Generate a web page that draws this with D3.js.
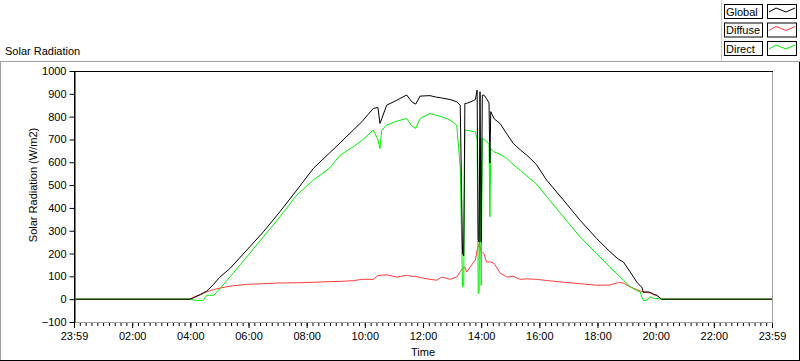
<!DOCTYPE html>
<html>
<head>
<meta charset="utf-8">
<script src="https://cdn.jsdelivr.net/npm/d3@7"></script>
<style>
  html, body { margin: 0; padding: 0; background: #fff; }
  svg { display: block; font-family: "Liberation Sans", Arial, sans-serif; font-size: 11px; }
</style>
</head>
<body>
<svg id="chart" width="800" height="361"></svg>
<script>
// time of day in hours, shared by all three series
var hours = [0, 3.99, 4.15, 4.3, 4.45, 4.56, 4.8, 5.0, 5.36, 5.94, 6.51, 7.08, 7.66, 8.23, 8.78,
  9.15, 9.6, 9.9, 10.29, 10.45, 10.52, 10.58, 10.75, 11.1, 11.44, 11.61, 11.75, 11.9, 12.24,
  12.47, 12.64, 12.93, 13.16, 13.28, 13.36, 13.4, 13.44, 13.5, 13.73, 13.8, 13.86, 13.9, 13.93,
  13.96, 14.0, 14.04, 14.1, 14.18, 14.27, 14.3, 14.33, 14.45, 14.65, 14.88, 15.1, 15.34, 15.57,
  15.9, 16.25, 16.83, 17.4, 17.97, 18.43, 18.72, 18.89, 19.12, 19.24, 19.35, 19.47, 19.52,
  19.58, 19.7, 19.81, 19.95, 20.04, 20.2, 24]

var globalRad = [0, 0, 8, 18, 28, 35, 65, 95, 134, 215, 295, 383, 478, 573, 640,
  685, 741, 778, 836, 840, 770, 790, 850, 872, 895, 865, 855, 890, 892,
  885, 882, 875, 865, 850, 200, 190, 858, 858, 870, 875, 916, 260, 250,
  909, 250, 894, 894, 880, 860, 597, 822, 790, 770, 725, 683, 655, 631,
  590, 522, 434, 346, 266, 208, 175, 163, 120, 97, 75, 58, 54,
  30, 32, 30, 20, 17, 0, 0]

var diffuseRad = [0, 0, 12, 17, 25, 32, 42, 48, 57, 65, 68, 71, 72, 74, 77,
  78, 81, 87, 87, 103, 104, 105, 107, 97, 105, 100, 100, 95, 87,
  83, 97, 87, 97, 120, 134, 141, 141, 119, 160, 171, 215, 229, 244,
  230, 207, 205, 200, 163, 163, 163, 163, 156, 115, 97, 100, 87, 89,
  87, 82, 74, 68, 61, 62, 73, 71, 54, 48, 42, 36, 34,
  32, 30, 27, 20, 17, 0, 0]

var directRad = [0, 0, -5, -5, -5, 17, 17, 44, 97, 185, 273, 361, 456, 522, 573,
  631, 668, 695, 741, 700, 660, 740, 763, 780, 792, 760, 748, 792, 814,
  805, 800, 785, 763, 580, 54, 60, 741, 741, 734, 734, 700, 24, 30,
  705, 60, 705, 700, 690, 680, 361, 660, 645, 635, 617, 590, 566, 540,
  505, 450, 361, 273, 200, 140, 105, 83, 55, 46, 38, 32, 10,
  -5, -5, 10, 3, 3, 0, 0]

var yTicks = [-100, 0, 100, 200, 300, 400, 500, 600, 700, 800, 900, 1000]
var xTicks = [0, 2, 4, 6, 8, 10, 12, 14, 16, 18, 20, 22, 24]
var xTickLabels = ['23:59', '02:00', '04:00', '06:00', '08:00', '10:00', '12:00',
  '14:00', '16:00', '18:00', '20:00', '22:00', '23:59']

var seriesNames = ['Global', 'Diffuse', 'Direct']
var seriesColors = ['#000000', '#ff3c3c', '#00f000']

var svg = d3.select('#chart')
var plotLeft = 74, plotRight = 772, plotTop = 71, plotBottom = 322
var font = 'Liberation Sans, Arial, sans-serif'

var x = d3.scaleLinear().domain([0, 24]).range([plotLeft, plotRight])
var y = d3.scaleLinear().domain([-100, 1000]).range([plotBottom, plotTop])

// outer frame
svg.append('line').attr('x1', 0).attr('x2', 800).attr('y1', 61.5).attr('y2', 61.5).attr('stroke', '#a0a0a0')
svg.append('line').attr('x1', 0.5).attr('x2', 0.5).attr('y1', 61).attr('y2', 361).attr('stroke', '#a0a0a0')
svg.append('line').attr('x1', 799.5).attr('x2', 799.5).attr('y1', 62).attr('y2', 361).attr('stroke', '#000')
svg.append('line').attr('x1', 0).attr('x2', 800).attr('y1', 360.5).attr('y2', 360.5).attr('stroke', '#000')
svg.append('line').attr('x1', 721.5).attr('x2', 721.5).attr('y1', 0).attr('y2', 61).attr('stroke', '#c8c8c8')

svg.append('text').attr('x', 5).attr('y', 55).text('Solar Radiation')

// legend
var legend = svg.selectAll('.legend').data(seriesNames).enter().append('g')
  .attr('class', 'legend')
  .attr('transform', function(d, i) { return 'translate(0,' + (4 + i * 18.5) + ')' })
legend.append('rect').attr('x', 724.5).attr('y', 0.5).attr('width', 38).attr('height', 14)
  .attr('fill', '#fff').attr('stroke', '#000')
legend.append('text').attr('x', 726).attr('y', 11.5).text(function(d) { return d })
legend.append('rect').attr('x', 767.5).attr('y', 0.5).attr('width', 29).attr('height', 14)
  .attr('fill', '#fff').attr('stroke', '#000')
legend.append('polyline')
  .attr('points', '769,8 776,4 786,8 795,4')
  .attr('fill', 'none')
  .attr('stroke', function(d, i) { return seriesColors[i] })

// plot borders
svg.append('line').attr('x1', plotRight + 0.5).attr('x2', plotRight + 0.5).attr('y1', plotTop).attr('y2', plotBottom + 1).attr('stroke', '#a0a0a0')
svg.append('line').attr('x1', plotLeft).attr('x2', plotRight + 1).attr('y1', plotBottom + 0.5).attr('y2', plotBottom + 0.5).attr('stroke', '#a0a0a0')
svg.append('line').attr('x1', plotLeft).attr('x2', plotRight + 1).attr('y1', plotTop + 0.5).attr('y2', plotTop + 0.5).attr('stroke', '#000')

// y axis
var yAxis = svg.append('g').attr('transform', 'translate(' + (plotLeft + 0.5) + ',0)')
  .call(d3.axisLeft(y).tickValues(yTicks).tickSize(5).tickPadding(3).tickSizeOuter(0)
    .tickFormat(d3.format('d')))
yAxis.select('.domain').attr('stroke', '#000')
yAxis.selectAll('text').attr('font-size', 11).attr('font-family', font).attr('fill', '#000')

// x axis: minor ticks every 12 minutes, major every 2 hours
var minor = d3.range(0, 24.001, 0.2)
svg.append('g').attr('transform', 'translate(0,' + (plotBottom + 1) + ')')
  .call(d3.axisBottom(x).tickValues(minor).tickSize(3).tickFormat('').tickSizeOuter(0))
  .call(function(g) { g.select('.domain').remove() })
var xAxis = svg.append('g').attr('transform', 'translate(0,' + (plotBottom + 1) + ')')
  .call(d3.axisBottom(x).tickValues(xTicks).tickSize(5).tickPadding(4).tickSizeOuter(0)
    .tickFormat(function(d, i) { return xTickLabels[i] }))
xAxis.select('.domain').remove()
xAxis.selectAll('text').attr('font-size', 11).attr('font-family', font).attr('fill', '#000')

svg.append('text').attr('x', (plotLeft + plotRight) / 2).attr('y', 356).attr('text-anchor', 'middle').text('Time')
svg.append('text').attr('transform', 'translate(37,185) rotate(-90)').attr('text-anchor', 'middle')
  .text('Solar Radiation (W/m2)')

// data lines
var line = d3.line()
  .x(function(d) { return x(d[0]) })
  .y(function(d) { return y(d[1]) })

var drawOrder = [[diffuseRad, 1], [directRad, 2], [globalRad, 0]]
drawOrder.forEach(function(s) {
  svg.append('path')
    .datum(hours.map(function(h, i) { return [h, s[0][i]] }))
    .attr('d', line)
    .attr('fill', 'none')
    .attr('stroke', seriesColors[s[1]])
    .attr('stroke-width', 1)
})

// left axis line on top
svg.append('line').attr('x1', plotLeft + 0.5).attr('x2', plotLeft + 0.5).attr('y1', plotTop).attr('y2', plotBottom + 1).attr('stroke', '#000')
</script>
</body>
</html>
